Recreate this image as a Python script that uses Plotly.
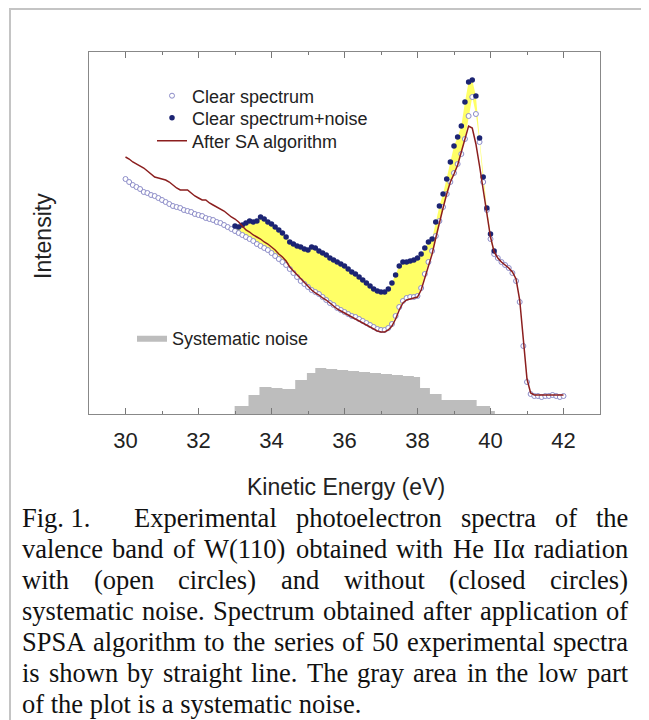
import numpy as np
import plotly.graph_objects as go

# kinetic energy grid of the measured spectra (eV)
energy = np.round(np.arange(30.0, 42.05, 0.1), 1)

# clear spectrum (open circles), arbitrary units
clear = [235, 232, 229, 227, 225, 222, 221, 219, 218, 216,
         214, 212, 210, 208, 207, 206, 204, 203, 202, 200,
         199, 198, 196, 195, 194, 192, 191, 189, 187, 185,
         183, 181, 179, 177, 175, 173, 170, 168, 166, 164,
         161, 158, 155, 152, 149, 145, 141, 137, 133, 130,
         127, 124, 122, 120, 117, 114, 111, 109, 106, 104,
         102, 100, 98, 97, 95, 93, 91, 89, 87, 85,
         84, 84, 86, 90, 98, 107, 113, 116, 117, 117,
         118, 126, 140, 152, 163, 178, 193, 207, 220, 232,
         241, 250, 260, 275, 298, 317, 300, 272, 232, 204,
         175, 160, 156, 152, 149, 146, 141, 133, 112, 68,
         32, 20, 18, 18, 17, 18, 18, 19, 18, 17, 18]

# spectrum after SA algorithm (line)
sa = [257, 255, 252, 250, 248, 246, 243, 240, 237, 236,
      235, 234, 232, 229, 226, 224, 224, 224, 221, 218,
      216, 214, 214, 211, 209, 207, 205, 203, 200, 197,
      195, 192, 188, 184, 182, 179, 177, 175, 172, 170,
      167, 164, 160, 157, 153, 147, 143, 139, 135, 132,
      127, 124, 121, 119, 116, 114, 111, 108, 105, 103,
      101, 99, 97, 95, 93, 91, 89, 87, 85, 83,
      82, 82, 84, 88, 95, 104, 111, 114, 115, 116,
      117, 124, 136, 148, 160, 176, 192, 206, 220, 232,
      240, 249, 262, 276, 288, 286, 270, 248, 224, 200,
      177, 162, 156, 152, 149, 146, 142, 135, 114, 72,
      35, 21, 19, 19, 19, 19, 19, 19, 19, 19, 19]

# clear spectrum + noise (closed circles), 33.0 ... 40.1 eV
noisy = [188, 187, 189, 191, 193, 192, 193, 197, 195, 192,
         190, 187, 184, 181, 177, 172, 170, 168, 167, 165,
         164, 167, 166, 163, 161, 159, 156, 154, 152, 150,
         148, 145, 142, 140, 137, 134, 131, 128, 125, 123,
         122, 122, 125, 131, 139, 148, 152, 152, 153, 154,
         156, 160, 166, 172, 175, 192, 208, 220, 235, 252,
         268, 277, 288, 312, 332, 334, 318, 276, 237, 206,
         180, 163]

# systematic noise, stepped (left edge of each step, height)
noise_e = [32.99, 33.37, 33.67, 34.0, 34.3, 34.65, 34.97, 35.2, 35.5, 35.8,
           36.1, 36.4, 36.7, 37.0, 37.3, 37.6, 37.9, 38.07, 38.34, 38.66,
           39.62, 39.99, 40.12]
noise_h = [8, 19, 27, 26, 25, 34, 41, 46, 45, 44,
           43, 42, 41, 40, 39, 38, 37, 26, 20, 14,
           8, 3, 0]

caption = [
    "Fig. 1.|Experimental photoelectron spectra of the",
    "valence band of W(110) obtained with He II\u03b1 radiation",
    "with (open circles) and without (closed circles)",
    "systematic noise. Spectrum obtained after application of",
    "SPSA algorithm to the series of 50 experimental spectra",
    "is shown by straight line. The gray area in the low part",
    "of the plot is a systematic noise.",
]

# the page body adds an 8px margin, so layout positions are given 8px up/left
W, H = 649, 720
ML, MR, MT, MB = 81, 57, 44, 314
PW, PH = W - ML - MR, H - MT - MB


def px(x):
    return (x - ML) / PW


def py(y):
    return (H - MB - y) / PH


# Times New Roman widths (1/1000 em) for justifying the caption
TW = dict(zip("abcdefghijklmnopqrstuvwxyz",
              [444, 500, 444, 500, 444, 333, 500, 500, 278, 278, 500, 278, 778,
               500, 500, 500, 500, 333, 389, 278, 500, 500, 722, 500, 500, 444]))
TW.update({' ': 250, '.': 250, ',': 250, '(': 333, ')': 333, 'A': 722, 'E': 611,
           'F': 556, 'H': 722, 'I': 333, 'P': 556, 'S': 556, 'T': 611,
           'W': 944, '\u03b1': 530})


def tw(s, size):
    return sum(TW.get(c, 500) for c in s) * size / 1000.0


fig = go.Figure()

fig.add_trace(go.Scatter(x=noise_e, y=noise_h, mode='lines', line_shape='hv',
                         line=dict(width=0, color='#bdbdbd'), fill='tozeroy',
                         fillcolor='#bdbdbd', name='Systematic noise',
                         legend='legend4'))

mask = (energy >= 33.0) & (energy <= 40.1)
clear_arr = np.array(clear)
fig.add_trace(go.Scatter(x=energy[mask], y=clear_arr[mask], mode='lines',
                         line=dict(width=0), showlegend=False, hoverinfo='skip'))
fig.add_trace(go.Scatter(x=energy[mask], y=noisy, mode='lines',
                         line=dict(width=0), fill='tonexty', fillcolor='#ffff66',
                         showlegend=False, hoverinfo='skip'))

fig.add_trace(go.Scatter(x=energy, y=clear, mode='markers', name='Clear spectrum',
                         marker=dict(symbol='circle', size=5, color='white',
                                     line=dict(color='#8c8cc8', width=1)),
                         legend='legend'))
fig.add_trace(go.Scatter(x=energy[mask], y=noisy, mode='markers',
                         name='Clear spectrum+noise', legend='legend2',
                         marker=dict(symbol='circle', size=5.5, color='#1c2473')))
fig.add_trace(go.Scatter(x=energy, y=sa, mode='lines', name='After SA algorithm',
                         line=dict(color='#8b1e1e', width=1.5), legend='legend3'))

font = 'Liberation Sans, Arial, sans-serif'
leg = dict(xanchor='left', yanchor='middle', bgcolor='rgba(0,0,0,0)', itemwidth=30,
           font=dict(size=18, family=font, color='#222'))
fig.update_layout(
    width=W, height=H,
    margin=dict(l=ML, r=MR, t=MT, b=MB),
    paper_bgcolor='white', plot_bgcolor='white',
    font=dict(family=font, color='#222'),
    legend=dict(leg, x=px(144), y=py(88)),
    legend2=dict(leg, x=px(144), y=py(110)),
    legend3=dict(leg, x=px(144), y=py(133)),
    legend4=dict(leg, x=px(124), y=py(330)),
)

fig.update_xaxes(range=[29, 43], tick0=30, dtick=2, ticks='inside', ticklen=6,
                 tickcolor='#777', showline=True, linecolor='#888', linewidth=1,
                 mirror='ticks', showgrid=False, zeroline=False,
                 ticklabelstandoff=7,
                 tickfont=dict(size=22, family=font, color='#222'),
                 minor=dict(dtick=1, ticks='inside', ticklen=3, tickcolor='#777'))
fig.update_yaxes(range=[0, 362], showticklabels=False, ticks='', showline=True,
                 linecolor='#888', linewidth=1, mirror=True, showgrid=False,
                 zeroline=False)

fig.add_annotation(x=px(338), y=py(479), xref='paper', yref='paper',
                   text='Kinetic Energy (eV)', showarrow=False,
                   xanchor='center', yanchor='middle',
                   font=dict(size=23, family=font, color='#222'))
fig.add_annotation(x=px(35), y=py(228), xref='paper', yref='paper',
                   text='Intensity', showarrow=False, textangle=-90,
                   xanchor='center', yanchor='middle',
                   font=dict(size=23, family=font, color='#222'))

# caption, justified between x0 and x1
serif = 'Liberation Serif, Times New Roman, serif'
cs = 26.5
x0, x1 = 12, 618


def cap_word(x, y, s):
    fig.add_annotation(x=px(x), y=y, xref='paper', yref='paper', text=s,
                       showarrow=False, xanchor='left', yanchor='middle',
                       font=dict(size=cs, family=serif, color='#111'))


for i, line in enumerate(caption):
    yc = py(510 + 31 * i)
    start = x0
    if '|' in line:
        head, line = line.split('|')
        cap_word(x0, yc, head)
        start = x0 + tw(head, cs) + 44
    if i == len(caption) - 1:
        cap_word(start, yc, line)
        continue
    words = line.split(' ')
    widths = [tw(w, cs) for w in words]
    gap = (x1 - start - sum(widths)) / (len(words) - 1)
    xpos = start
    for w, wd in zip(words, widths):
        cap_word(xpos, yc, w)
        xpos += wd + gap

# outer frame of the figure panel
fig.add_shape(type='rect', xref='paper', yref='paper', x0=px(2), y0=py(1),
              x1=px(720), y1=py(800), line=dict(color='#c4c4c4', width=2))

fig.write_html("out.html")
